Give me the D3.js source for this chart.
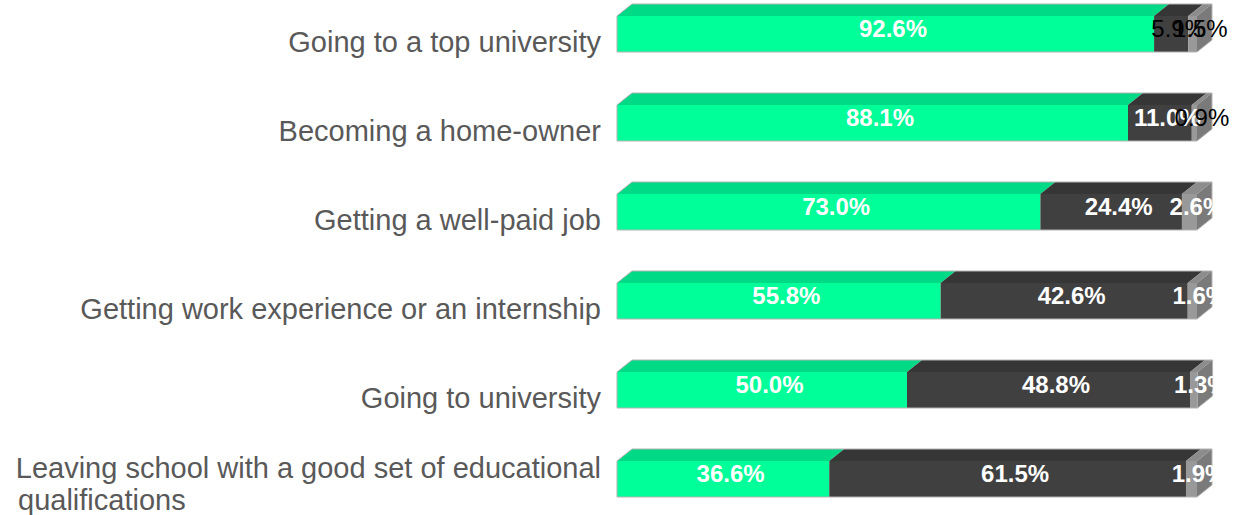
<!DOCTYPE html>
<html>
<head>
<meta charset="utf-8">
<script src="https://cdn.jsdelivr.net/npm/d3@7"></script>
<style>
  html, body { margin: 0; padding: 0; background: #fff; }
  svg { display: block; font-family: "Liberation Sans", Arial, sans-serif; }
</style>
</head>
<body>
<div id="chart"></div>
<script>
// categories, top to bottom
const categories = [
  'Going to a top university',
  'Becoming a home-owner',
  'Getting a well-paid job',
  'Getting work experience or an internship',
  'Going to university',
  'Leaving school with a good set of educational qualifications'
];
// three stacked series (percent)
const seriesA = [92.6, 88.1, 73.0, 55.8, 50.0, 36.6];
const seriesB = [5.9, 11.0, 24.4, 42.6, 48.8, 61.5];
const seriesC = [1.5, 0.9, 2.6, 1.6, 1.3, 1.9];

const W = 1236, H = 515;
const depthX = 15, depthY = 12, barH = 36;

// colours: front / top / side
const colors = [
  {front: '#00ff99', top: '#00d985', side: '#00c47a'},
  {front: '#404040', top: '#363636', side: '#2e2e2e'},
  {front: '#999999', top: '#8c8c8c', side: '#7a7a7a'}
];
// labels drawn plain black rather than bold white: [row, series]
const plainLabels = ['0-1', '0-2', '1-2'];

const svg = d3.select('#chart').append('svg')
  .attr('width', W).attr('height', H);

const x = d3.scaleLinear().domain([0, 100]).range([617, 1197]);
const y = d3.scalePoint().domain(categories).range([34, 479]);

svg.append('clipPath').attr('id', 'plotclip')
  .append('rect').attr('x', 0).attr('y', 0).attr('width', 1213).attr('height', H);

const rows = categories.map((c, i) => {
  const vals = [seriesA[i], seriesB[i], seriesC[i]];
  let acc = 0;
  const segs = vals.map((v, k) => {
    const s = {row: i, k, v, x0: acc, x1: acc + v};
    acc += v;
    return s;
  });
  return {cat: c, segs};
});

const barsG = svg.append('g');
rows.forEach(r => {
  const yt = y(r.cat) - barH / 2, yb = yt + barH;
  const g = barsG.append('g');
  // top faces
  g.selectAll('path.top').data(r.segs).enter().append('path')
    .attr('class', 'top')
    .attr('d', d => {
      const a = x(d.x0), b = x(d.x1);
      return `M${a},${yt}L${a + depthX},${yt - depthY}L${b + depthX},${yt - depthY}L${b},${yt}Z`;
    })
    .attr('fill', d => colors[d.k].top);
  // side face on the last segment
  const last = r.segs[r.segs.length - 1];
  const e = x(last.x1);
  g.append('path')
    .attr('d', `M${e},${yt}L${e + depthX},${yt - depthY}L${e + depthX},${yb - depthY}L${e},${yb}Z`)
    .attr('fill', colors[last.k].side);
  // front faces
  g.selectAll('rect.front').data(r.segs).enter().append('rect')
    .attr('class', 'front')
    .attr('x', d => x(d.x0))
    .attr('y', yt)
    .attr('width', d => x(d.x1) - x(d.x0))
    .attr('height', barH)
    .attr('fill', d => colors[d.k].front);
  // thin outline of the whole bar
  g.append('path')
    .attr('d', `M${x(0)},${yb}L${x(0)},${yt}L${x(0) + depthX},${yt - depthY}L${e + depthX},${yt - depthY}L${e + depthX},${yb - depthY}L${e},${yb}Z`)
    .attr('fill', 'none').attr('stroke', '#b3b3b3').attr('stroke-width', 1);
});

// value labels
const labelsG = svg.append('g');
rows.forEach(r => {
  const cy = y(r.cat) - depthY / 2;
  r.segs.forEach(d => {
    const plain = plainLabels.includes(`${d.row}-${d.k}`);
    const t = labelsG.append('text')
      .attr('x', (x(d.x0) + x(d.x1)) / 2 + depthX / 2)
      .attr('y', cy)
      .attr('dy', '0.36em')
      .attr('text-anchor', 'middle')
      .attr('font-size', 24)
      .attr('font-weight', plain ? 'normal' : 'bold')
      .attr('fill', plain ? '#000' : '#fff')
      .text(d.v.toFixed(1) + '%');
    if (!plain) t.attr('clip-path', 'url(#plotclip)');
  });
});

// category labels (wrap long ones)
const catG = svg.append('g');
rows.forEach(r => {
  const t = catG.append('text')
    .attr('x', 601)
    .attr('text-anchor', 'end')
    .attr('font-size', 29)
    .attr('fill', '#595959');
  const cy = y(r.cat) + 8;
  const lines = r.cat.length > 45
    ? ['Leaving school with a good set of educational', 'qualifications']
    : [r.cat];
  if (lines.length === 1) {
    t.attr('y', cy).attr('dy', '0.36em').text(r.cat);
  } else {
    t.attr('y', cy - 19).attr('dy', '0.36em');
    t.append('tspan').attr('x', 601).text(lines[0]);
    t.append('tspan').attr('x', 18).attr('text-anchor', 'start').attr('dy', 32).text(lines[1]);
  }
});
</script>
</body>
</html>
